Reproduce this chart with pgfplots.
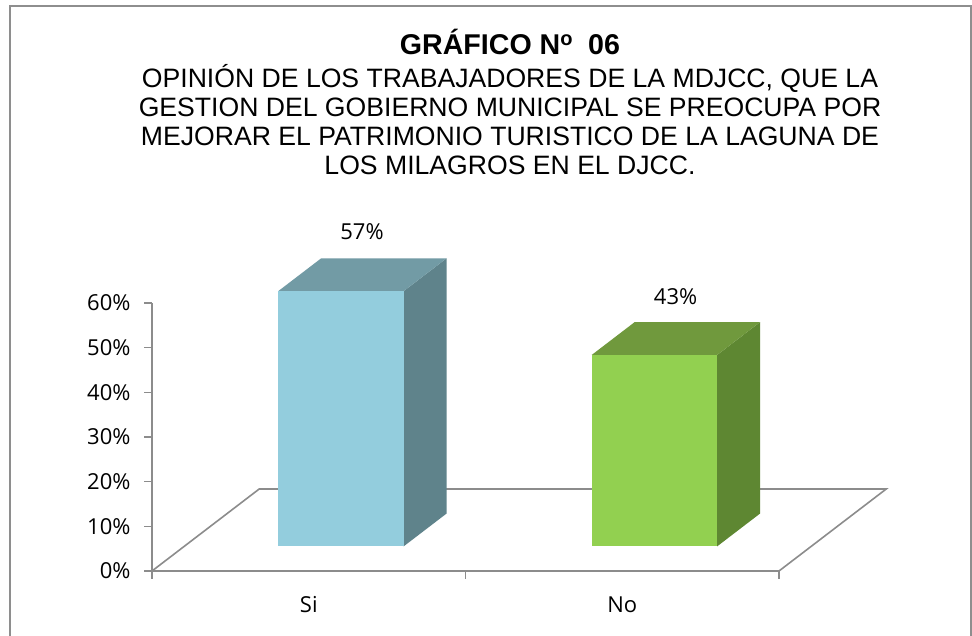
\documentclass[border=0pt]{standalone}
\usepackage{fontspec}
\setmainfont{Liberation Sans}
\newfontfamily\opensans{Open Sans}
\usepackage{pgfplots}
\pgfplotsset{compat=1.18}
\definecolor{siFront}{HTML}{93CDDD}
\definecolor{siTop}{HTML}{729BA5}
\definecolor{siSide}{HTML}{5F838B}
\definecolor{noFront}{HTML}{92D050}
\definecolor{noTop}{HTML}{70993D}
\definecolor{noSide}{HTML}{5E8732}
\definecolor{axisgray}{HTML}{8C8C8C}
\definecolor{framegray}{HTML}{8E8E8E}
\begin{document}
\begin{tikzpicture}[x=1pt,y=1pt]
\useasboundingbox (0,0) rectangle (972,636);
\fill[white] (0,0) rectangle (972,636);
\draw[framegray, line width=2pt] (10,-10) rectangle (971,630);
% titles
\node[anchor=base, inner sep=0pt] at (510,581) {\fontsize{28.6}{32}\selectfont\bfseries GRÁFICO N\textsuperscript{o}\hspace{0.25em} 06};
\node[anchor=base, inner sep=0pt] at (510,548.5) {\fontsize{26.6}{29}\selectfont OPINIÓN DE LOS TRABAJADORES DE LA MDJCC, QUE LA};
\node[anchor=base, inner sep=0pt] at (510,519.5) {\fontsize{26.6}{29}\selectfont GESTION DEL GOBIERNO MUNICIPAL SE PREOCUPA POR};
\node[anchor=base, inner sep=0pt] at (510,490.5) {\fontsize{26.6}{29}\selectfont MEJORAR EL PATRIMONIO TURISTICO DE LA LAGUNA DE};
\node[anchor=base, inner sep=0pt] at (510,461.5) {\fontsize{26.6}{29}\selectfont LOS MILAGROS EN EL DJCC.};
\begin{axis}[
  at={(152pt,65pt)}, anchor=south west,
  width=627pt, height=268pt, scale only axis,
  xmin=-0.5, xmax=1.5, ymin=0, ymax=60,
  clip=false,
  axis x line*=bottom, axis y line*=left,
  axis line style={draw=axisgray, line width=1.6pt},
  every tick/.style={draw=axisgray, line width=1.6pt},
  tick align=outside, major tick length=8pt,
  ytick={0,10,20,30,40,50,60},
  yticklabels={0\%,10\%,20\%,30\%,40\%,50\%,60\%},
  yticklabel style={xshift=-10pt},
  xtick={-0.5,0.5,1.5}, xticklabels={,,},
  extra x ticks={0,1}, extra x tick labels={Si,No},
  extra x tick style={major tick length=0pt, xticklabel style={yshift=-22pt}},
  ticklabel style={font=\opensans\fontsize{22}{26}\selectfont, text=black},
  /pgf/number format/assume math mode=true,
  nodes near coords={\pgfmathprintnumber[fixed,precision=0]{\pgfplotspointmeta}\%},
]
% floor
\addplot[draw=axisgray, line width=1.6pt, mark=none, nodes near coords=] coordinates {(-0.5,0) (-0.158,18.36) (1.842,18.36) (1.5,0)};
% bar Si (57.14)
\addplot[fill=siSide, draw=none, mark=none, nodes near coords=] coordinates {(0.3026,5.508) (0.4394,12.852) (0.4394,69.992) (0.3026,62.648)} -- cycle;
\addplot[fill=siTop, draw=none, mark=none, nodes near coords=] coordinates {(-0.0974,62.648) (0.3026,62.648) (0.4394,69.992) (0.0394,69.992)} -- cycle;
\addplot[fill=siFront, draw=none, mark=none, nodes near coords=] coordinates {(-0.0974,5.508) (0.3026,5.508) (0.3026,62.648) (-0.0974,62.648)} -- cycle;
% bar No (42.86)
\addplot[fill=noSide, draw=none, mark=none, nodes near coords=] coordinates {(1.3026,5.508) (1.4394,12.852) (1.4394,55.712) (1.3026,48.368)} -- cycle;
\addplot[fill=noTop, draw=none, mark=none, nodes near coords=] coordinates {(0.9026,48.368) (1.3026,48.368) (1.4394,55.712) (1.0394,55.712)} -- cycle;
\addplot[fill=noFront, draw=none, mark=none, nodes near coords=] coordinates {(0.9026,5.508) (1.3026,5.508) (1.3026,48.368) (0.9026,48.368)} -- cycle;
% data labels
\addplot[draw=none, mark=none, point meta=explicit,
  every node near coord/.style={anchor=center, font=\opensans\fontsize{22}{26}\selectfont, text=black}]
  coordinates {(0.170,75.9) [57.14] (1.170,61.4) [42.86]};
\end{axis}
\end{tikzpicture}
\end{document}
